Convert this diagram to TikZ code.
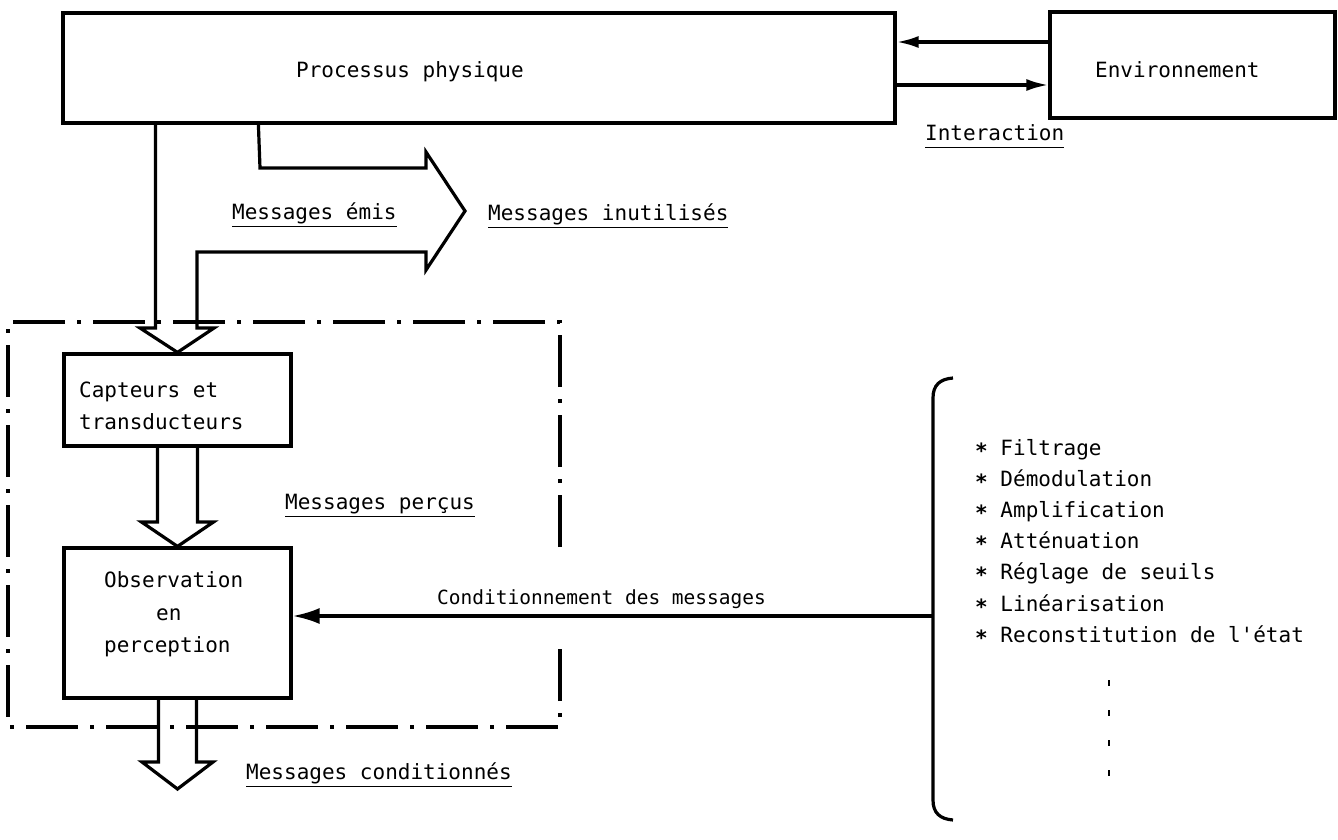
\documentclass[tikz,border=0pt]{standalone}
\usepackage{fontspec}
\setmonofont{DejaVu Sans Mono}
\usetikzlibrary{arrows.meta}
% underlined label: rule drawn 8pt under the baseline, as wide as the text
\newcommand\ulbx[1]{\setbox0\hbox{#1}\rlap{\rule[-8pt]{\wd0}{1.4pt}}\box0}
\newcommand\bulletstar{\raisebox{-3pt}{\bfseries *}}

\begin{document}
\begin{tikzpicture}[x=1pt,y=-1pt,
  box/.style={draw, line width=3.2pt, inner sep=0pt, rectangle},
  txt/.style={inner sep=0pt, anchor=mid west, font=\ttfamily\fontsize{21}{25}\selectfont},
  outline/.style={line width=3.2pt, line join=miter},
  frame/.style={line width=3.2pt, dash pattern=on 52pt off 12pt on 4pt off 12pt},
  itip/.style={-{Latex[length=22pt,width=12pt]}, line width=3.2pt},
  ctip/.style={-{Latex[length=27pt,width=16pt]}, line width=3.2pt},
]
\useasboundingbox (0,0) rectangle (1338,840);

% boxes
\node[box, minimum width=832pt, minimum height=110pt] (proc) at (479,68) {};
\node[box, minimum width=285pt, minimum height=106pt] (env) at (1192.5,65) {};
\node[box, minimum width=227pt, minimum height=92pt] (cap) at (177.5,400) {};
\node[box, minimum width=227pt, minimum height=150pt] (obs) at (177.5,623) {};

% box texts
\node[txt] (proct) at (296,75) {Processus physique};
\node[txt] (envt) at (1095,75) {Environnement};
\node[txt] (capt1) at (79,395) {Capteurs et};
\node[txt] (capt2) at (79,427) {transducteurs};
\node[txt] (obst1) at (104,585) {Observation};
\node[txt] (obst2) at (156,618) {en};
\node[txt] (obst3) at (104,650) {perception};

% interaction between the process and its environment
\coordinate (iup) at (0,42);
\coordinate (ilo) at (0,85);
\draw[itip] (env.west |- iup) -- (proc.east |- iup);
\draw[itip] (proc.east |- ilo) -- (env.west |- ilo);
\node[txt] (inter) at (925,138) {\ulbx{Interaction}};

% emitted messages: split into perceived and unused
\draw[outline] ([xshift=94pt]proc.south west) |- (140,328) -- (cap.north) -- (214,328)
  -| (197,252) -- (426,252) -- (426,270) -- (465,211) -- (426,152) -- (426,168)
  -- (260,168) -- ([xshift=197pt]proc.south west);
\node[txt] (emis) at (232,217) {\ulbx{Messages émis}};
\node[txt] (inut) at (488,218) {\ulbx{Messages inutilisés}};

% perceived messages
\draw[outline] ([xshift=-20pt]cap.south) |- (141.5,522) -- (obs.north) -- (213.5,522)
  -| ([xshift=20pt]cap.south);
\node[txt] (percus) at (285,507) {\ulbx{Messages perçus}};

% conditioned messages leaving the observation block
\coordinate (outtip) at (177.5,789);
\draw[outline] ([xshift=-19pt]obs.south) |- (142,762) -- (outtip) -- (213,762)
  -| ([xshift=19pt]obs.south);
\node[txt] (cond) at (246,777) {\ulbx{Messages conditionnés}};

% dash-dot frame around sensing and observation
\draw[frame] (560,547) -- (560,322) -- (8,322) -- (8,727) -- (560,727) -- (560,648);

% message conditioning operations
\coordinate (brk) at (933,616);
\draw[ctip] (brk) -- (obs.east |- brk);
\node[txt, font=\ttfamily\fontsize{19.5}{24}\selectfont] (condt) at (437,602) {Conditionnement des messages};
\draw[line width=3.2pt] (953,378) .. controls (940,379) and (933,385) .. (933,398)
  -- (933,800) .. controls (933,813) and (940,819) .. (953,820);
\foreach \t [count=\i] in {Filtrage,Démodulation,Amplification,Atténuation,Réglage de seuils,Linéarisation,Reconstitution de l\textquotesingle état}
  \node[txt] (op\i) at (975,{453+31.2*(\i-1)}) {\bulletstar\ \t};
\foreach \yy in {683,713,743,773}
  \draw[line width=2pt] (1109,{\yy-3}) -- (1109,{\yy+3});
\end{tikzpicture}
\end{document}
